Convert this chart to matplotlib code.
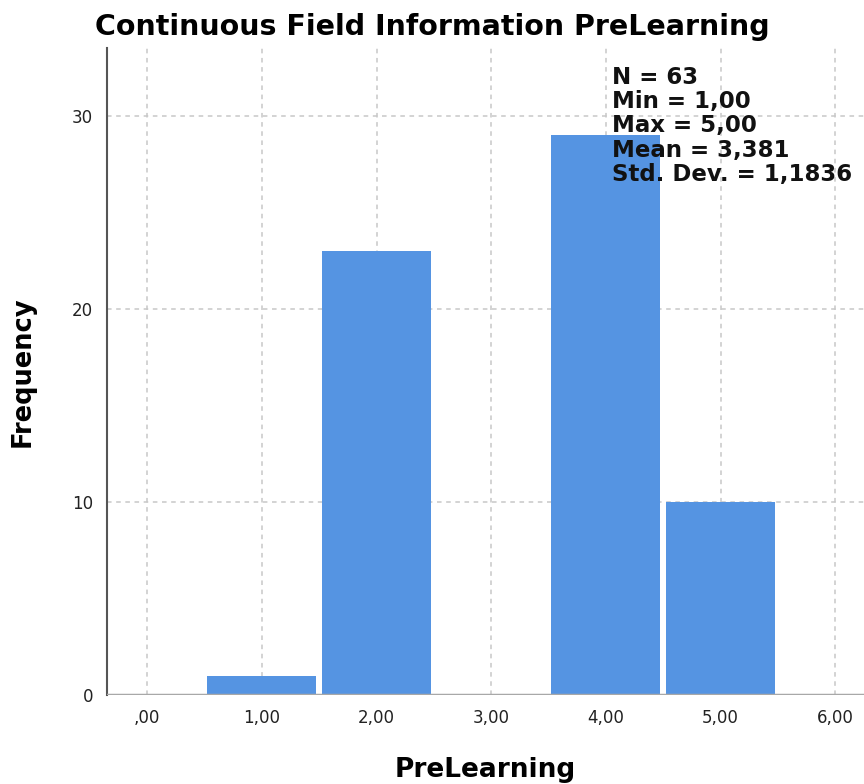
import matplotlib
matplotlib.use("Agg")
import matplotlib.pyplot as plt

# Histogram data (SPSS style)
values = [1, 2, 3, 4, 5]
counts = [1, 23, 0, 29, 10]
xtick_vals = [0, 1, 2, 3, 4, 5, 6]
xtick_labels = [",00", "1,00", "2,00", "3,00", "4,00", "5,00", "6,00"]
ytick_vals = [0, 10, 20, 30]
stats_lines = ["N = 63", "Min = 1,00", "Max = 5,00", "Mean = 3,381", "Std. Dev. = 1,1836"]

plt.rcParams['font.family'] = ['DejaVu Sans']

fig = plt.figure(figsize=(8.64, 7.84), dpi=100)
ax = fig.add_axes([0.1238, 0.1135, 0.8762, 0.825])

ax.bar(values, counts, width=0.95, color="#5594e2", edgecolor="none", zorder=3)

ax.set_xlim(-0.35, 6.25)
ax.set_ylim(0, 33.5)

ax.set_xticks(xtick_vals)
ax.set_xticklabels(xtick_labels, fontsize=12, color="#222222")
ax.set_yticks(ytick_vals)
ax.set_yticklabels([str(v) for v in ytick_vals], fontsize=12, color="#222222")
ax.tick_params(axis="both", length=0, pad=10)

# dashed grid
ax.grid(True, color="#c8c8c8", linestyle=(0, (3, 3)), linewidth=1.1, zorder=0)
ax.set_axisbelow(True)

for s in ["top", "right", "bottom"]:
    ax.spines[s].set_visible(False)
ax.spines["left"].set_color("#555555")
ax.spines["left"].set_linewidth(1.5)
ax.axhline(0, color="#a8a8a8", linewidth=2.5, zorder=4)

fig.text(0.5, 1 - 27 / 784, "Continuous Field Information PreLearning",
         fontsize=20.5, fontweight="bold", ha="center", va="center")
ax.set_xlabel("PreLearning", fontsize=19, fontweight="bold", labelpad=22)
ax.set_ylabel("Frequency", fontsize=18.5, fontweight="bold", labelpad=26)

ax.text(4.05, 32.6, "\n".join(stats_lines), fontsize=16.5, fontweight="bold",
        va="top", ha="left", linespacing=1.08, zorder=5, color="#111111")

fig.savefig("out.png", dpi=100)
